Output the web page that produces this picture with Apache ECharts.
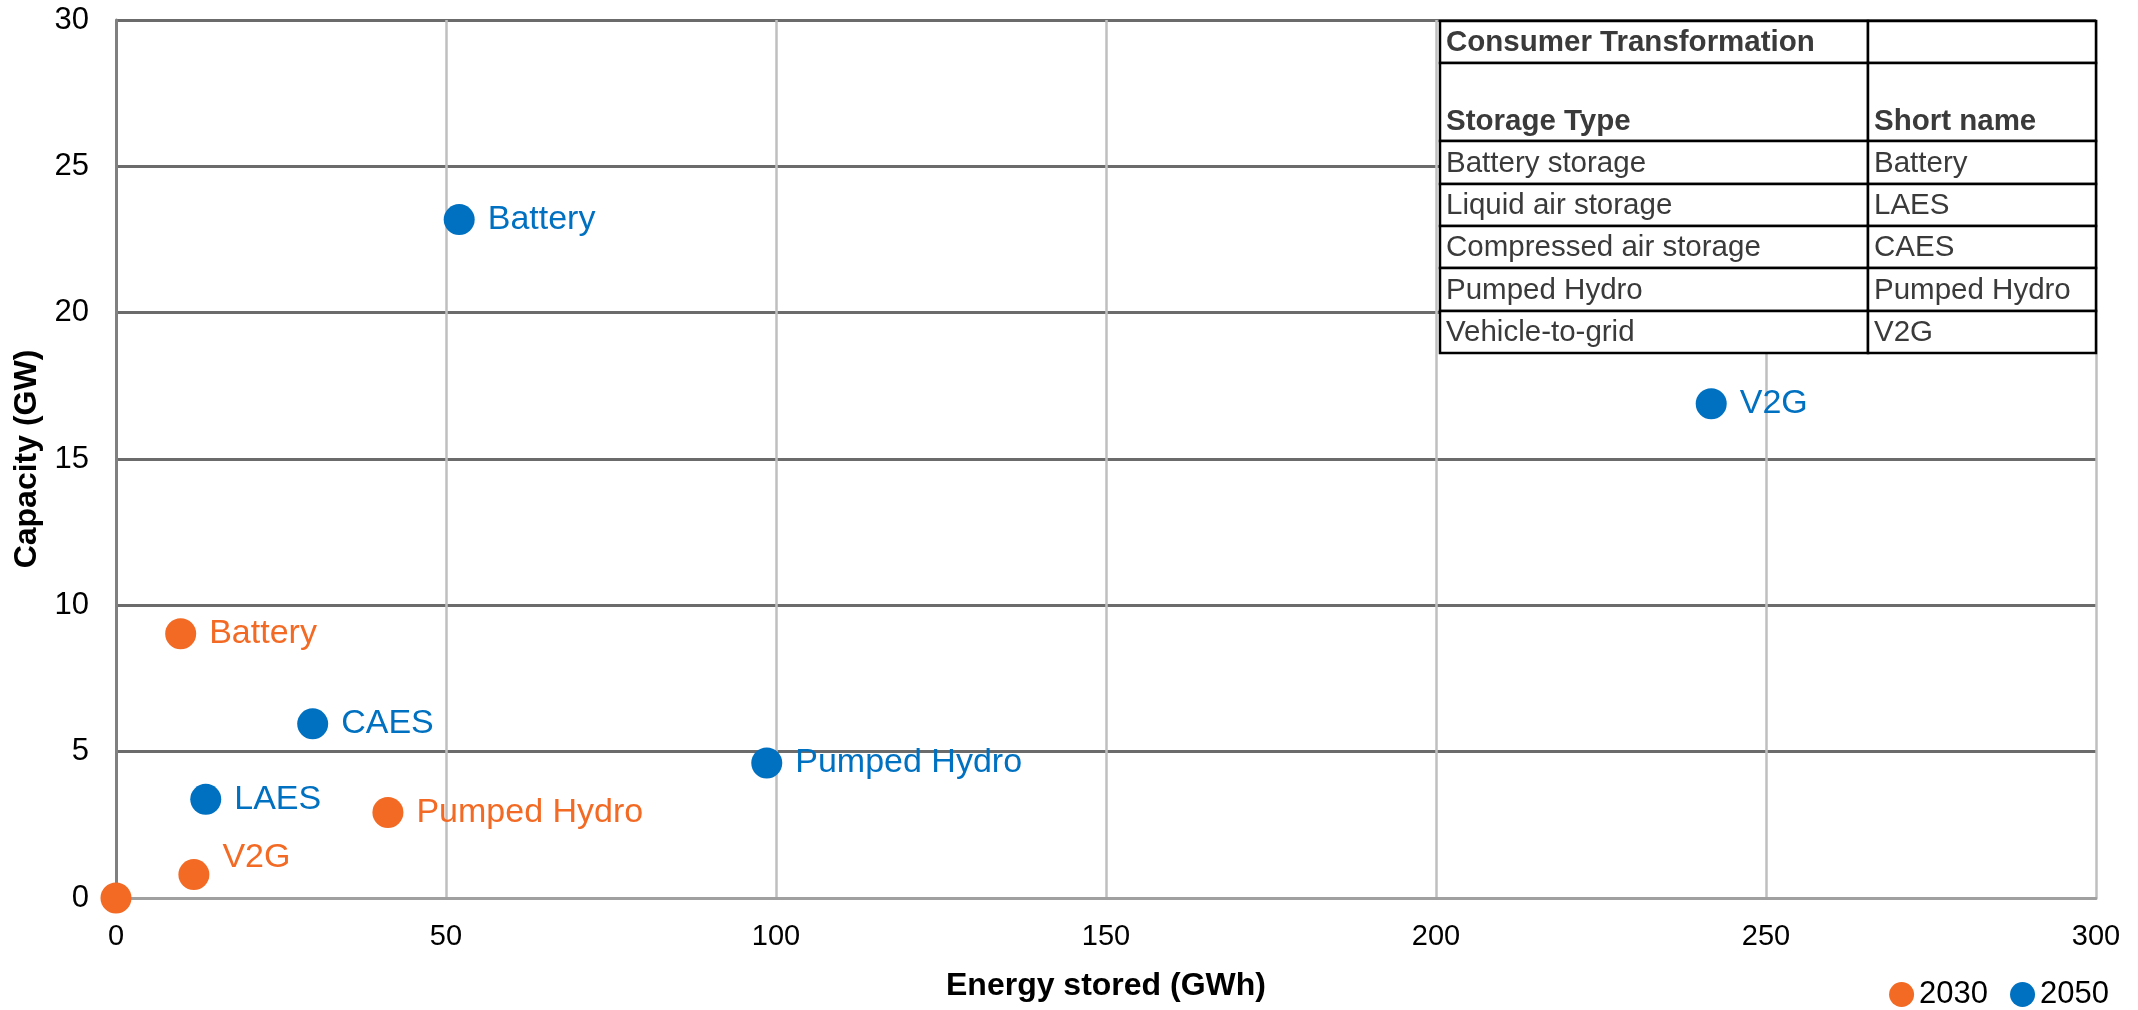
<!DOCTYPE html>
<html>
<head>
<meta charset="utf-8">
<title>Storage capacity vs energy stored</title>
<script src="https://cdn.jsdelivr.net/npm/echarts@6/dist/echarts.min.js"></script>
<style>
  html, body { margin: 0; padding: 0; background: #fff; }
  #main { width: 2138px; height: 1010px; }
</style>
</head>
<body>
<div id="main"></div>
<script>
// data
var names2030 = ['', 'V2G', 'Pumped Hydro', 'Battery'];
var energy2030 = [0, 11.8, 41.2, 9.8];
var capacity2030 = [0, 0.8, 2.92, 9.03];

var names2050 = ['LAES', 'CAES', 'Pumped Hydro', 'Battery', 'V2G'];
var energy2050 = [13.6, 29.8, 98.6, 52.0, 241.7];
var capacity2050 = [3.37, 5.95, 4.61, 23.18, 16.89];

var xTicks = [0, 50, 100, 150, 200, 250, 300];
var yTicks = [0, 5, 10, 15, 20, 25, 30];

var tableTitle = ['Consumer Transformation', ''];
var tableHead = ['Storage Type', 'Short name'];
var tableRows = [
  ['Battery storage', 'Battery'],
  ['Liquid air storage', 'LAES'],
  ['Compressed air storage', 'CAES'],
  ['Pumped Hydro', 'Pumped Hydro'],
  ['Vehicle-to-grid', 'V2G']
];

var ORANGE = '#F26A24';
var BLUE = '#0070C0';
var FONT = "'Liberation Sans', Arial, sans-serif";

function buildPoints(names, xs, ys) {
  var out = [];
  for (var i = 0; i < names.length; i++) {
    out.push({ name: names[i], value: [xs[i], ys[i]] });
  }
  return out;
}

var pts2030 = buildPoints(names2030, energy2030, capacity2030);
// V2G 2030 label sits a little above its dot
pts2030[1].label = { offset: [0, -17] };

var pts2050 = buildPoints(names2050, energy2050, capacity2050);

// table drawn as graphic cells
function buildTable() {
  var colX = [1440, 1868, 2096];
  var rowY = [21, 63, 141, 184, 226, 268, 311, 353];
  var els = [];
  var rows = [tableTitle, tableHead].concat(tableRows);
  for (var r = 0; r < rows.length; r++) {
    for (var c = 0; c < 2; c++) {
      els.push({
        type: 'rect',
        z: 100,
        shape: { x: colX[c], y: rowY[r], width: colX[c + 1] - colX[c], height: rowY[r + 1] - rowY[r] },
        style: { fill: '#fff', stroke: '#000', lineWidth: 2.5 }
      });
      var bold = r < 2;
      var ty = r === 1 ? rowY[r + 1] - 19 : (rowY[r] + rowY[r + 1]) / 2 + 1;
      els.push({
        type: 'text',
        z: 101,
        x: colX[c] + 6,
        y: ty,
        style: {
          text: rows[r][c],
          fill: '#3a3a3a',
          fontSize: 29.5,
          fontWeight: bold ? 'bold' : 'normal',
          fontFamily: FONT,
          verticalAlign: 'middle'
        }
      });
    }
  }
  return els;
}

var myChart = echarts.init(document.getElementById('main'));

var option = {
  backgroundColor: '#fff',
  animation: false,
  textStyle: { fontFamily: FONT },
  grid: { left: 116, right: 42, top: 20, bottom: 112 },
  legend: {
    data: ['2030', '2050'],
    right: 24,
    top: 974,
    icon: 'circle',
    itemWidth: 25,
    itemHeight: 25,
    itemGap: 22,
    textStyle: { fontSize: 31, color: '#000', fontFamily: FONT }
  },
  xAxis: {
    type: 'value',
    min: xTicks[0],
    max: xTicks[xTicks.length - 1],
    interval: xTicks[1] - xTicks[0],
    name: 'Energy stored (GWh)',
    nameLocation: 'middle',
    nameGap: 72,
    nameTextStyle: { fontSize: 32, fontWeight: 'bold', color: '#000', fontFamily: FONT },
    axisLine: { show: true, onZero: false, lineStyle: { color: '#a0a0a0', width: 3 } },
    axisTick: { show: false },
    axisLabel: { fontSize: 29, color: '#000', margin: 24 },
    splitLine: { show: true, lineStyle: { color: '#bfbfbf', width: 2.5 } }
  },
  yAxis: {
    type: 'value',
    min: yTicks[0],
    max: yTicks[yTicks.length - 1],
    interval: yTicks[1] - yTicks[0],
    name: 'Capacity (GW)',
    nameLocation: 'middle',
    nameGap: 72,
    nameTextStyle: { fontSize: 32, fontWeight: 'bold', color: '#000', fontFamily: FONT },
    axisLine: { show: true, onZero: false, lineStyle: { color: '#808080', width: 3 } },
    axisTick: { show: false },
    axisLabel: { fontSize: 31, color: '#000', margin: 27 },
    splitLine: { show: true, lineStyle: { color: '#6b6b6b', width: 3 } }
  },
  series: [
    {
      name: '2030',
      type: 'scatter',
      clip: false,
      symbolSize: 31,
      itemStyle: { color: ORANGE, opacity: 1 },
      label: {
        show: true,
        position: 'right',
        distance: 13,
        formatter: '{b}',
        color: ORANGE,
        fontSize: 34,
        fontFamily: FONT
      },
      data: pts2030
    },
    {
      name: '2050',
      type: 'scatter',
      clip: false,
      symbolSize: 31,
      itemStyle: { color: BLUE, opacity: 1 },
      label: {
        show: true,
        position: 'right',
        distance: 13,
        formatter: '{b}',
        color: BLUE,
        fontSize: 34,
        fontFamily: FONT
      },
      data: pts2050
    }
  ],
  graphic: buildTable()
};

myChart.setOption(option);
</script>
</body>
</html>
